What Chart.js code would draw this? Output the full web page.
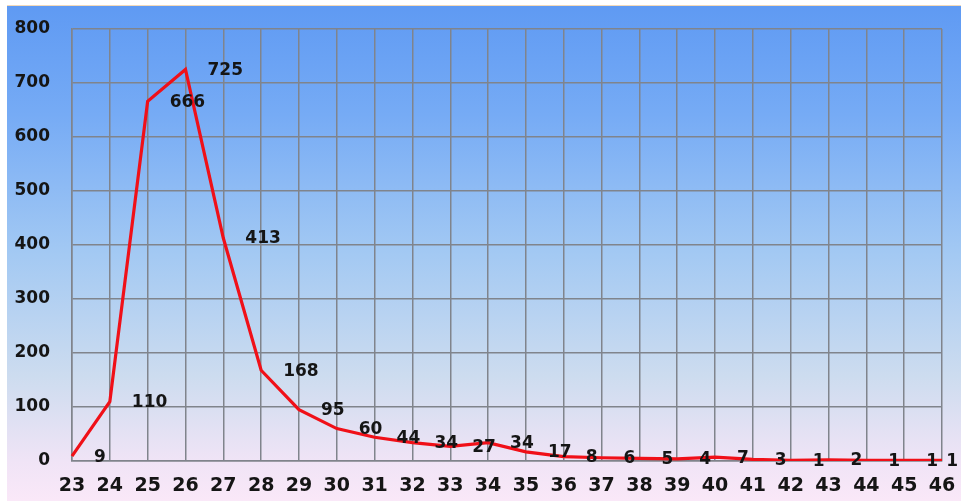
<!DOCTYPE html>
<html>
<head>
<meta charset="utf-8">
<script src="https://cdn.jsdelivr.net/npm/chart.js@4/dist/chart.umd.min.js"></script>
<style>
  html, body { margin: 0; padding: 0; background: #ffffff; }
  #wrap {
    position: absolute; left: 7px; top: 5px; width: 954px; height: 496px;
    border-top: 1px solid #f3d9b8;
    box-sizing: border-box;
    background: linear-gradient(to bottom, #5f9af3 0%, #76abf5 22%, #a3c9f3 50%, #cddcef 75%, #f0e4f6 92%, #fae8f8 100%);
  }
  canvas { display: block; }
</style>
</head>
<body>
<div id="wrap"><canvas id="chart" width="954" height="495"></canvas></div>
<script>
// data
const categories = ['23','24','25','26','27','28','29','30','31','32','33','34','35','36','37','38','39','40','41','42','43','44','45','46'];
const values = [9, 110, 666, 725, 413, 168, 95, 60, 44, 34, 27, 34, 17, 8, 6, 5, 4, 7, 3, 1, 2, 1, 1, 1];
const yTicks = [0, 100, 200, 300, 400, 500, 600, 700, 800];

const FONT = '"DejaVu Sans", Verdana, sans-serif';

// value labels, drawn to the right of each point
const valueLabels = {
    id: 'valueLabels',
    afterDatasetsDraw(chart) {
        const ctx = chart.ctx;
        const meta = chart.getDatasetMeta(0);
        ctx.save();
        ctx.font = 'bold 17px ' + FONT;
        ctx.fillStyle = '#151515';
        ctx.textAlign = 'left';
        ctx.textBaseline = 'middle';
        meta.data.forEach((pt, i) => {
            const txt = String(values[i]);
            const w = ctx.measureText(txt).width;
            let x = pt.x + 22;
            if (x + w > chart.width - 3) x = chart.width - 3 - w;
            ctx.fillText(txt, x, pt.y + 1);
        });
        ctx.restore();
    }
};

new Chart(document.getElementById('chart'), {
    type: 'line',
    data: {
        labels: categories,
        datasets: [{
            data: values,
            borderColor: '#f01018',
            borderWidth: 3.2,
            tension: 0,
            pointRadius: 0,
            fill: false
        }]
    },
    options: {
        responsive: false,
        animation: false,
        layout: { padding: { top: 23, right: 19, left: 0, bottom: 0 } },
        plugins: {
            legend: { display: false },
            tooltip: { enabled: false }
        },
        scales: {
            x: {
                offset: false,
                grid: { color: '#80848c', lineWidth: 1.5, drawTicks: true, tickLength: 14, tickColor: 'rgba(0,0,0,0)' },
                border: { color: '#80848c', width: 1.5 },
                ticks: {
                    padding: 0,
                    maxRotation: 0,
                    autoSkip: false,
                    color: '#151515',
                    font: { family: FONT, size: 19, weight: 'bold' }
                },
                afterFit(scale) { scale.height = 40; }
            },
            y: {
                min: 0,
                max: 800,
                grid: { color: '#80848c', lineWidth: 1.5, drawTicks: true, tickLength: 22, tickColor: 'rgba(0,0,0,0)' },
                border: { color: '#80848c', width: 1.5 },
                afterBuildTicks(scale) { scale.ticks = yTicks.map(v => ({ value: v })); },
                ticks: {
                    padding: 0,
                    color: '#151515',
                    font: { family: FONT, size: 17, weight: 'bold' }
                },
                afterFit(scale) { scale.width = 65; }
            }
        }
    },
    plugins: [valueLabels]
});
</script>
</body>
</html>
